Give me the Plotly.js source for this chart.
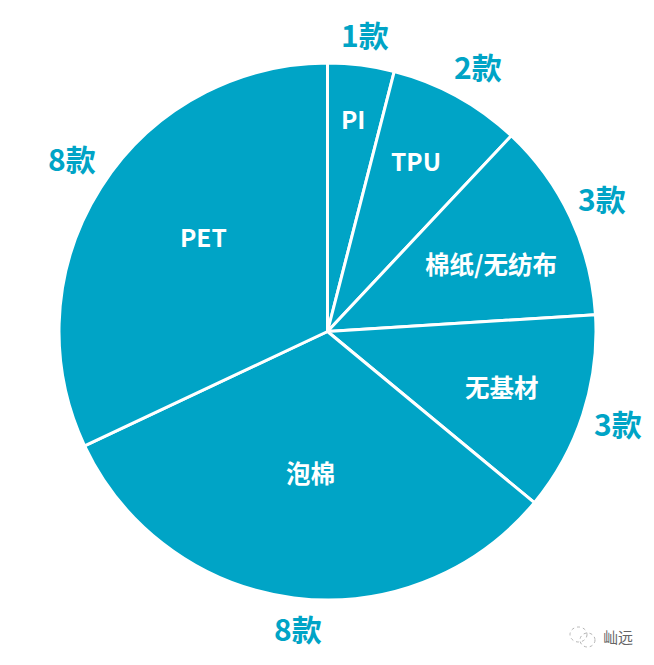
<!DOCTYPE html>
<html><head><meta charset="utf-8"><script src="https://cdn.plot.ly/plotly-3.0.1.min.js"></script>
<style>html,body{margin:0;padding:0;background:#fff}</style></head><body><div id="c" style="width:654px;height:665px"></div>
<script>
const categories=["PI","TPU","棉纸/无纺布","无基材","泡棉","PET"];
const values=[1,2,3,3,8,8];
const countLabels=["1款","2款","3款","3款","8款","8款"];
const F='"Noto Sans CJK SC","Noto Sans",sans-serif';
const W=654,H=665;
const note=(x,y,text,size,color,weight)=>({xref:'paper',yref:'paper',x:x/W,y:1-y/H,text,showarrow:false,xanchor:'center',yanchor:'middle',font:{family:F,size,color,weight}});
const ann=[];
[[365,34],[478,66],[602,198],[618,423],[298,628],[72,158]].forEach((p,i)=>ann.push(note(p[0],p[1],countLabels[i],30,'#00a4c6',700)));
[[353,118],[416,160],[490.5,263],[502,386],[310,472],[203,236]].forEach((p,i)=>ann.push(note(p[0],p[1],categories[i],24.5,'#fff',700)));
ann.push(note(618,636,'屾远',15,'#666',400));
const ring=(x0,y0,x1,y1)=>({type:'circle',xref:'paper',yref:'paper',x0:x0/W,x1:x1/W,y0:1-y1/H,y1:1-y0/H,line:{color:'#b5b5b5',width:1,dash:'dot'},fillcolor:'rgba(255,255,255,0)'});
Plotly.newPlot('c',[{type:'pie',labels:categories,values:values,sort:false,direction:'clockwise',rotation:0,
 textinfo:'none',
 marker:{colors:categories.map(()=>'#00a4c6'),line:{color:'#fff',width:3}},
 domain:{x:[59/W,596/W],y:[1-600/H,1-63/H]},showlegend:false,hoverinfo:'label+value'}],
 {width:W,height:H,margin:{l:0,r:0,t:0,b:0},paper_bgcolor:'#fff',annotations:ann,shapes:[ring(570,627,587,642),ring(580,633,595,647)]},{displayModeBar:false});
</script></body></html>
